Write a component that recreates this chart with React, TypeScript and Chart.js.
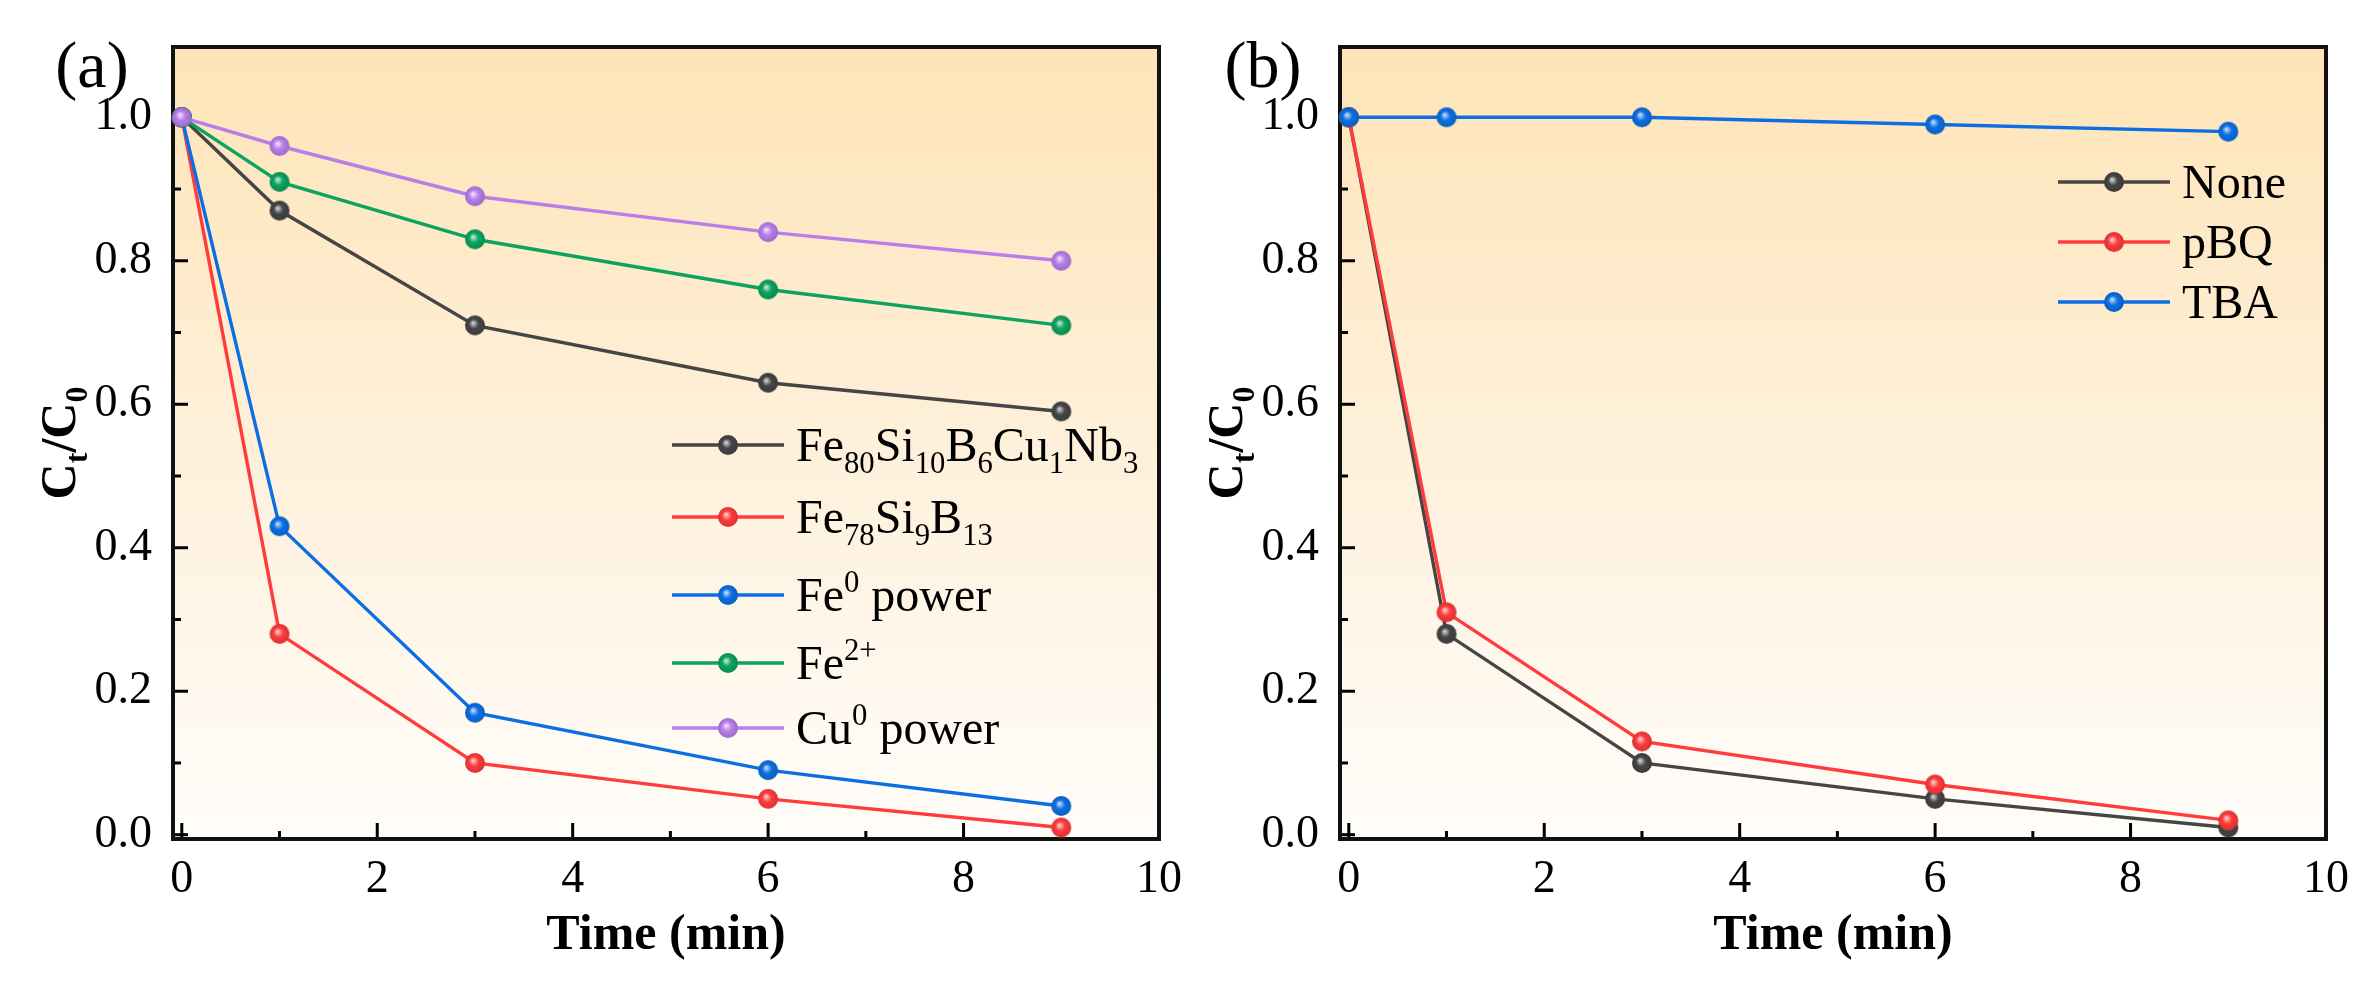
import React, { useEffect, useRef } from "react";
import { Chart, registerables } from "chart.js";

Chart.register(...registerables);

const SERIF = "'Liberation Serif', 'Times New Roman', serif";

// Sampling times (min)
const timeMin = [0, 1, 3, 6, 9];

// (a) Ct/C0 for the different catalysts
const feSiBCuNb = [1.0, 0.87, 0.71, 0.63, 0.59];
const feSiB = [1.0, 0.28, 0.1, 0.05, 0.01];
const fe0Powder = [1.0, 0.43, 0.17, 0.09, 0.04];
const fe2Ion = [1.0, 0.91, 0.83, 0.76, 0.71];
const cu0Powder = [1.0, 0.96, 0.89, 0.84, 0.8];

// (b) Ct/C0 with radical scavengers
const noScavenger = [1.0, 0.28, 0.1, 0.05, 0.01];
const pbqScavenger = [1.0, 0.31, 0.13, 0.07, 0.02];
const tbaScavenger = [1.0, 1.0, 1.0, 0.99, 0.98];

// Series names (_{..} subscript, ^{..} superscript)
const labelsA = [
  "Fe_{80}Si_{10}B_{6}Cu_{1}Nb_{3}",
  "Fe_{78}Si_{9}B_{13}",
  "Fe^{0} power",
  "Fe^{2+}",
  "Cu^{0} power",
];
const labelsB = ["None", "pBQ", "TBA"];

// Axis ticks
const xMajorTicks = [0, 2, 4, 6, 8, 10];
const xMinorTicks = [1, 3, 5, 7, 9];
const yMajorTicks = [0, 0.2, 0.4, 0.6, 0.8, 1.0];
const yMinorTicks = [0.1, 0.3, 0.5, 0.7, 0.9];

const xTitle = "Time (min)";
const yTitle = "C_{t}/C_{0}";

type Seg = { t: string; k: "n" | "sub" | "sup" };

function parseRich(s: string): Seg[] {
  const out: Seg[] = [];
  const re = /([_^])\{([^}]*)\}|([^_^]+)/g;
  let m: RegExpExecArray | null;
  while ((m = re.exec(s))) {
    if (m[1]) out.push({ t: m[2], k: m[1] === "_" ? "sub" : "sup" });
    else out.push({ t: m[3], k: "n" });
  }
  return out;
}

function richFont(seg: Seg, size: number, weight: string) {
  const fs = seg.k === "n" ? size : size * 0.64;
  return `${weight} ${fs}px ${SERIF}`;
}

function measureRich(ctx: CanvasRenderingContext2D, segs: Seg[], size: number, weight: string) {
  let w = 0;
  for (const s of segs) {
    ctx.font = richFont(s, size, weight);
    w += ctx.measureText(s.t).width;
  }
  return w;
}

// draws text with sub/superscripts; y is the baseline
function drawRich(
  ctx: CanvasRenderingContext2D,
  segs: Seg[],
  x: number,
  y: number,
  size: number,
  weight: string
) {
  let cx = x;
  ctx.textAlign = "left";
  ctx.textBaseline = "alphabetic";
  for (const s of segs) {
    ctx.font = richFont(s, size, weight);
    const dy = s.k === "sub" ? size * 0.24 : s.k === "sup" ? -size * 0.4 : 0;
    ctx.fillText(s.t, cx, y + dy);
    cx += ctx.measureText(s.t).width;
  }
  return cx - x;
}

function mix(hex: string, target: number, amt: number) {
  const n = parseInt(hex.slice(1), 16);
  const r = (n >> 16) & 255;
  const g = (n >> 8) & 255;
  const b = n & 255;
  const f = (c: number) => Math.round(c + (target - c) * amt);
  return `rgb(${f(r)},${f(g)},${f(b)})`;
}

// glossy ball marker
function makeSphere(color: string, r: number): HTMLCanvasElement {
  const d = Math.ceil(r * 2 + 2);
  const c = document.createElement("canvas");
  c.width = d;
  c.height = d;
  const g = c.getContext("2d")!;
  const cx = d / 2;
  const cy = d / 2;
  const grad = g.createRadialGradient(cx - r * 0.2, cy - r * 0.25, r * 0.05, cx, cy, r);
  grad.addColorStop(0, mix(color, 255, 0.75));
  grad.addColorStop(0.45, color);
  grad.addColorStop(1, mix(color, 0, 0.15));
  g.fillStyle = grad;
  g.beginPath();
  g.arc(cx, cy, r, 0, Math.PI * 2);
  g.fill();
  return c;
}

type Series = { label: string; color: string; values: number[] };

type PanelSpec = {
  series: Series[]; // legend order
  drawOrder: number[]; // first entry is painted on top
  tag: string;
  tagX: number;
  legendLineX: [number, number];
  legendRows: number[]; // y of each legend row relative to chart top
  padRight: number;
};

const panelA: PanelSpec = {
  series: [
    { label: labelsA[0], color: "#454545", values: feSiBCuNb },
    { label: labelsA[1], color: "#FF3B3B", values: feSiB },
    { label: labelsA[2], color: "#0B6FE3", values: fe0Powder },
    { label: labelsA[3], color: "#0BA35E", values: fe2Ion },
    { label: labelsA[4], color: "#B97EEA", values: cu0Powder },
  ],
  drawOrder: [4, 3, 0, 2, 1],
  tag: "(a)",
  tagX: 92,
  legendLineX: [672, 784],
  legendRows: [398, 470, 548, 616, 681],
  padRight: 23,
};

const panelB: PanelSpec = {
  series: [
    { label: labelsB[0], color: "#454545", values: noScavenger },
    { label: labelsB[1], color: "#FF3B3B", values: pbqScavenger },
    { label: labelsB[2], color: "#0B6FE3", values: tbaScavenger },
  ],
  drawOrder: [2, 1, 0],
  tag: "(b)",
  tagX: 96,
  legendLineX: [891, 1003],
  legendRows: [135, 195, 255],
  padRight: 38,
};

const AREA_LEFT = 173;
const AREA_TOP = 47;
const CANVAS_H = 986;
const AREA_BOTTOM = 839;

function buildChart(canvas: HTMLCanvasElement, panel: PanelSpec) {
  const spheres = panel.series.map((s) => makeSphere(s.color, 10));
  const datasets = panel.drawOrder.map((i) => {
    const s = panel.series[i];
    return {
      label: s.label,
      data: timeMin.map((t, k) => ({ x: t, y: s.values[k] })),
      borderColor: s.color,
      backgroundColor: s.color,
      borderWidth: 3.4,
      pointStyle: spheres[i] as any,
      pointRadius: 10,
      pointHoverRadius: 10,
      tension: 0,
      clip: false as any,
    };
  });

  const decor = {
    id: "panelDecor",
    beforeDraw(chart: any) {
      const { ctx, chartArea: a } = chart;
      ctx.save();
      const grad = ctx.createLinearGradient(0, a.top, 0, a.bottom);
      grad.addColorStop(0, "#FEE4B7");
      grad.addColorStop(0.5, "#FEF0DA");
      grad.addColorStop(1, "#FFFDFA");
      ctx.fillStyle = grad;
      ctx.fillRect(a.left, a.top, a.right - a.left, a.bottom - a.top);
      ctx.restore();
    },
    beforeDatasetsDraw(chart: any) {
      const { ctx, chartArea: a } = chart;
      const xs = chart.scales.x;
      const ys = chart.scales.y;
      ctx.save();
      ctx.strokeStyle = "#000";
      ctx.lineCap = "butt";
      ctx.lineWidth = 3;
      const tickY = (v: number, len: number) => {
        const p = ys.getPixelForValue(v);
        ctx.beginPath();
        ctx.moveTo(a.left, p);
        ctx.lineTo(a.left + len, p);
        ctx.stroke();
      };
      const tickX = (v: number, len: number) => {
        const p = xs.getPixelForValue(v);
        ctx.beginPath();
        ctx.moveTo(p, a.bottom);
        ctx.lineTo(p, a.bottom - len);
        ctx.stroke();
      };
      yMajorTicks.forEach((v) => tickY(v, 15));
      yMinorTicks.forEach((v) => tickY(v, 8));
      xMajorTicks.forEach((v) => tickX(v, 16));
      xMinorTicks.forEach((v) => tickX(v, 8));
      ctx.lineWidth = 4;
      ctx.strokeStyle = "#111";
      ctx.strokeRect(a.left, a.top, a.right - a.left, a.bottom - a.top);
      ctx.restore();
    },
    afterDraw(chart: any) {
      const { ctx, chartArea: a } = chart;
      ctx.save();
      ctx.fillStyle = "#000";

      // legend
      const lsize = 48;
      panel.series.forEach((s, i) => {
        const y = a.top + panel.legendRows[i];
        const [x0, x1] = panel.legendLineX;
        ctx.strokeStyle = s.color;
        ctx.lineWidth = 3.4;
        ctx.beginPath();
        ctx.moveTo(x0, y);
        ctx.lineTo(x1, y);
        ctx.stroke();
        const img = spheres[i];
        ctx.drawImage(img, (x0 + x1) / 2 - img.width / 2, y - img.height / 2);
        ctx.fillStyle = "#000";
        drawRich(ctx, parseRich(s.label), x1 + 12, y + lsize * 0.34, lsize, "normal");
      });

      // rotated y-axis title
      const tsize = 50;
      const segs = parseRich(yTitle);
      const w = measureRich(ctx, segs, tsize, "bold");
      ctx.save();
      ctx.translate(58, (a.top + a.bottom) / 2);
      ctx.rotate(-Math.PI / 2);
      ctx.fillStyle = "#000";
      drawRich(ctx, segs, -w / 2, tsize * 0.34, tsize, "bold");
      ctx.restore();

      // panel tag
      ctx.font = `normal 66px ${SERIF}`;
      ctx.textAlign = "center";
      ctx.textBaseline = "middle";
      ctx.fillStyle = "#000";
      ctx.fillText(panel.tag, panel.tagX, 70);
      ctx.restore();
    },
  };

  return new Chart(canvas, {
    type: "line",
    data: { datasets: datasets as any },
    options: {
      responsive: false,
      animation: false,
      events: [],
      layout: { padding: { left: 0, top: AREA_TOP, right: panel.padRight, bottom: 0 } },
      plugins: { legend: { display: false }, tooltip: { enabled: false } },
      scales: {
        x: {
          type: "linear",
          min: -0.09,
          max: 10,
          afterFit: (s: any) => {
            s.height = CANVAS_H - AREA_BOTTOM;
            s.paddingLeft = 0;
            s.paddingRight = 0;
          },
          afterBuildTicks: (s: any) => {
            s.ticks = xMajorTicks.map((v) => ({ value: v }));
          },
          grid: { display: false, drawTicks: false },
          border: { display: false },
          ticks: {
            color: "#000",
            font: { family: SERIF, size: 46 },
            padding: 13,
            maxRotation: 0,
            autoSkip: false,
            callback: (v: any) => String(v),
          },
          title: {
            display: true,
            text: xTitle,
            color: "#000",
            font: { family: SERIF, size: 50, weight: "bold" },
            padding: { top: 0, bottom: 20 },
          },
        },
        y: {
          type: "linear",
          min: -0.006,
          max: 1.098,
          afterFit: (s: any) => {
            s.width = AREA_LEFT;
            s.paddingTop = 0;
            s.paddingBottom = 0;
          },
          afterBuildTicks: (s: any) => {
            s.ticks = yMajorTicks.map((v) => ({ value: v }));
          },
          grid: { display: false, drawTicks: false },
          border: { display: false },
          ticks: {
            color: "#000",
            font: { family: SERIF, size: 46 },
            padding: 21,
            autoSkip: false,
            callback: (v: any) => Number(v).toFixed(1),
          },
        },
      },
    } as any,
    plugins: [decor],
  });
}

export default function App() {
  const refA = useRef<HTMLCanvasElement>(null);
  const refB = useRef<HTMLCanvasElement>(null);

  useEffect(() => {
    const a = buildChart(refA.current!, panelA);
    const b = buildChart(refB.current!, panelB);
    return () => {
      a.destroy();
      b.destroy();
    };
  }, []);

  return (
    <div
      style={{
        position: "absolute",
        left: 0,
        top: 0,
        width: 2364,
        height: 986,
        background: "#fff",
        overflow: "hidden",
      }}
    >
      <canvas
        ref={refA}
        width={1182}
        height={986}
        style={{ position: "absolute", left: 0, top: 0, width: 1182, height: 986 }}
      />
      <canvas
        ref={refB}
        width={1197}
        height={986}
        style={{ position: "absolute", left: 1167, top: 0, width: 1197, height: 986 }}
      />
    </div>
  );
}
